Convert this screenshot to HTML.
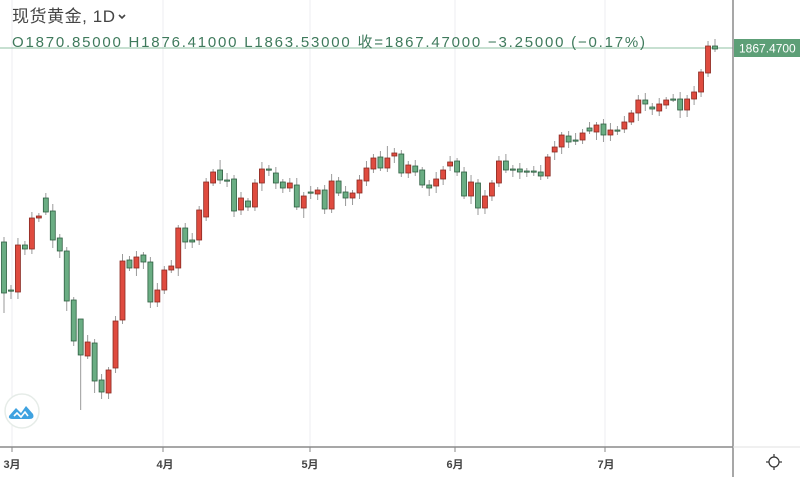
<!DOCTYPE html>
<html><head><meta charset="utf-8"><style>
body{margin:0;width:800px;height:477px;overflow:hidden;background:#fff;font-family:"Liberation Sans","Noto Sans CJK SC",sans-serif}
svg{position:absolute;left:0;top:0}
</style></head><body>
<svg id="s" width="800" height="477" viewBox="0 0 800 477">
<g stroke="#eceef2" stroke-width="1">
<line x1="12" y1="0" x2="12" y2="447"/><line x1="163" y1="0" x2="163" y2="447"/><line x1="310" y1="0" x2="310" y2="447"/><line x1="455" y1="0" x2="455" y2="447"/><line x1="605" y1="0" x2="605" y2="447"/>
</g>
<line x1="0" y1="48" x2="733" y2="48" stroke="#8fc0a3" stroke-width="1"/>
<g id="c"></g>
<line x1="733" y1="0" x2="733" y2="477" stroke="#8a8a8a" stroke-width="1.5"/>
<line x1="0" y1="447" x2="733" y2="447" stroke="#8a8a8a" stroke-width="1.5"/>
<line x1="733" y1="447" x2="800" y2="447" stroke="#e0e0e0" stroke-width="1"/>
<g stroke="#888" stroke-width="1"><line x1="12" y1="447" x2="12" y2="452"/><line x1="163" y1="447" x2="163" y2="452"/><line x1="310" y1="447" x2="310" y2="452"/><line x1="455" y1="447" x2="455" y2="452"/><line x1="605" y1="447" x2="605" y2="452"/></g>
<g font-size="11" fill="#444" text-anchor="middle" font-weight="bold">
<text x="12" y="468">3月</text><text x="165" y="468">4月</text><text x="310" y="468">5月</text><text x="455" y="468">6月</text><text x="606" y="468">7月</text>
</g>
<rect x="734" y="39" width="66" height="18" fill="#5d9f77"/>
<text x="739" y="52.5" font-size="12" fill="#fff">1867.4700</text>
<text x="12" y="22" font-size="17" fill="#444" textLength="103">现货黄金, 1D</text>
<path d="M119 15 l3 3 l3 -3" stroke="#444" stroke-width="1.6" fill="none"/>
<text x="12" y="47" font-size="15" fill="#3f7a5c" textLength="633" lengthAdjust="spacing">O1870.85000  H1876.41000  L1863.53000  收=1867.47000  −3.25000 (−0.17%)</text>
<circle cx="22" cy="411" r="17" fill="#fff" stroke="#e6ece8" stroke-width="1.5"/>
<path d="M9 416 l7-8 l5 5 l5-7 l7 8 q2 5 -4 5 h-16 q-5 0 -4-3z" fill="#3fa2e0"/>
<path d="M14 416 l3-3 l4 4 l4-5 l3 4" stroke="#fff" stroke-width="1.6" fill="none"/>
<g transform="translate(774,462)" stroke="#333" stroke-width="1.2" fill="none">
<circle r="5"/><line x1="0" y1="-8" x2="0" y2="-5"/><line x1="0" y1="8" x2="0" y2="5"/><line x1="-8" y1="0" x2="-5" y2="0"/><line x1="8" y1="0" x2="5" y2="0"/>
</g>
</svg>
<script>
var d=[[242,293],[290,291],[292,245],[245,249],[249,218],[218,216],[198,212],[211,240],[238,251],[251,301],[300,341],[319,355],[356,342],[343,381],[380,392],[393,370],[368,321],[320,261],[260,268],[268,257],[255,262],[262,302],[302,290],[290,270],[270,266],[268,228],[228,242],[240,242],[240,210],[217,182],[183,172],[170,180],[180,180],[179,211],[210,198],[201,207],[207,183],[183,169],[169,169],[173,183],[182,188],[188,183],[185,207],[208,196],[192,192],[194,190],[190,209],[209,181],[181,193],[192,198],[198,193],[193,180],[181,168],[169,158],[157,168],[168,158],[156,153],[154,173],[173,165],[166,172],[170,185],[185,188],[186,179],[179,170],[166,162],[161,172],[172,196],[196,182],[183,208],[208,196],[196,183],[183,161],[161,170],[169,169],[169,172],[171,171],[171,171],[172,176],[176,157],[152,147],[147,135],[136,142],[140,140],[140,133],[128,131],[132,125],[124,135],[135,130],[130,130],[129,122],[122,113],[113,100],[100,104],[107,109],[111,104],[105,100],[99,99],[99,110],[110,99],[99,92],[92,72],[73,46],[46,49]];
var ext={11:[0,55],0:[5,20],9:[4,10],13:[4,12],29:[4,4],31:[10,4],33:[4,6],36:[4,4],43:[4,10],55:[12,4],57:[4,4],78:[3,3]};
var h='',n=d.length,st=(715-4)/(n-1);
for(var i=0;i<n;i++){var o=d[i][0],c=d[i][1],x=4+i*st,t=Math.min(o,c),b=Math.max(o,c);
var e=ext[i]||[3+(i*7%5),3+(i*5%6)];var up=c<o;
var fc=up?'#df4b3f':'#6aad83',sc=up?'#8a2a22':'#2f5f42';
h+='<line x1="'+x+'" y1="'+(t-e[0])+'" x2="'+x+'" y2="'+(b+e[1])+'" stroke="#9a9a9a" stroke-width="1"/>';
h+='<rect x="'+(x-2.5)+'" y="'+t+'" width="5" height="'+Math.max(b-t,1.2)+'" fill="'+fc+'" stroke="'+sc+'" stroke-width="0.8"/>';}
document.getElementById('c').innerHTML=h;
</script>
</body></html>
